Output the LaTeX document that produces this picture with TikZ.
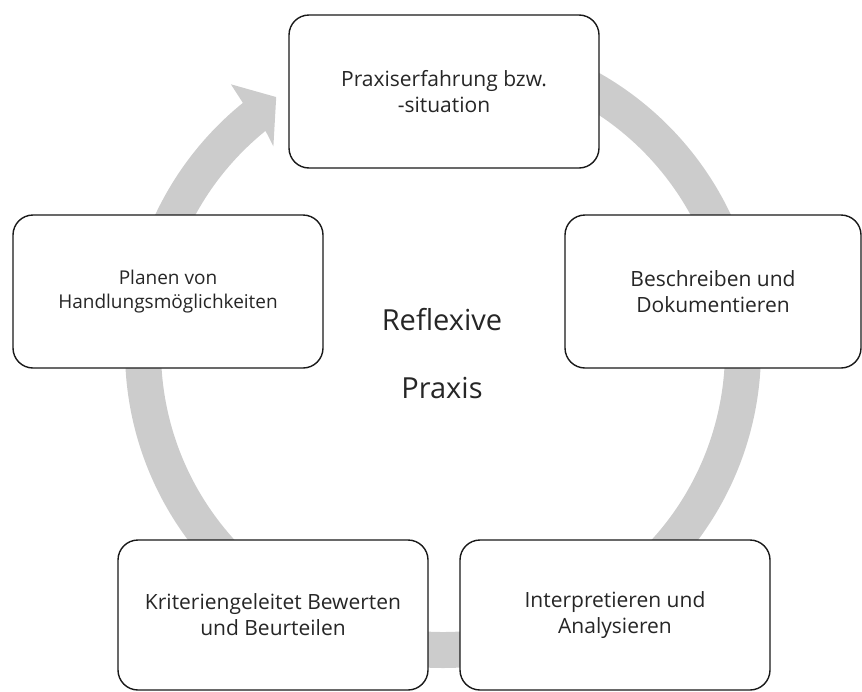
\documentclass[tikz,border=0pt]{standalone}
\usepackage{fontspec}
\setmainfont{Open Sans}
\definecolor{ringgray}{HTML}{CCCCCC}
\definecolor{txt}{HTML}{262626}
\begin{document}
\begin{tikzpicture}[x=1pt,y=-1pt,
  box/.style={draw=black!90, line width=1.4pt, fill=white, rounded corners=20pt,
    minimum width=310pt, minimum height=153pt, inner sep=0pt, align=center,
    text=txt, font=\fontsize{21}{26}\selectfont},
  center/.style={text=txt, font=\fontsize{29}{34}\selectfont, anchor=base, inner sep=0pt}]
\useasboundingbox (0,0) rectangle (862,691);
% circular arrow
\begin{scope}[shift={(443,350)}]
  \fill[ringgray] (-90:318) arc[start angle=-90, end angle=231, radius=318]
    -- (231.4:340) -- (236.6:303) -- (230.2:265) -- (231:282)
    arc[start angle=231, end angle=-90, radius=282] -- cycle;
\end{scope}
% boxes
\node[box] (top) at (444,91.5) {Praxiserfahrung bzw.\\-situation};
\node[box, minimum width=296pt] (right) at (713,291.5) {Beschreiben und\\Dokumentieren};
\node[box, minimum height=150pt] (botR) at (615,615) {Interpretieren und\\Analysieren};
\node[box, minimum height=150pt] (botL) at (273,615) {Kriteriengeleitet Bewerten\\und Beurteilen};
\node[box, font=\fontsize{19}{24}\selectfont] (left) at (168,291.5) {Planen von\\Handlungsmöglichkeiten};
% centre text
\node[center] (refl) at (442,330) {Reflexive};
\node[center] (prax) at (442,398) {Praxis};
\end{tikzpicture}
\end{document}
